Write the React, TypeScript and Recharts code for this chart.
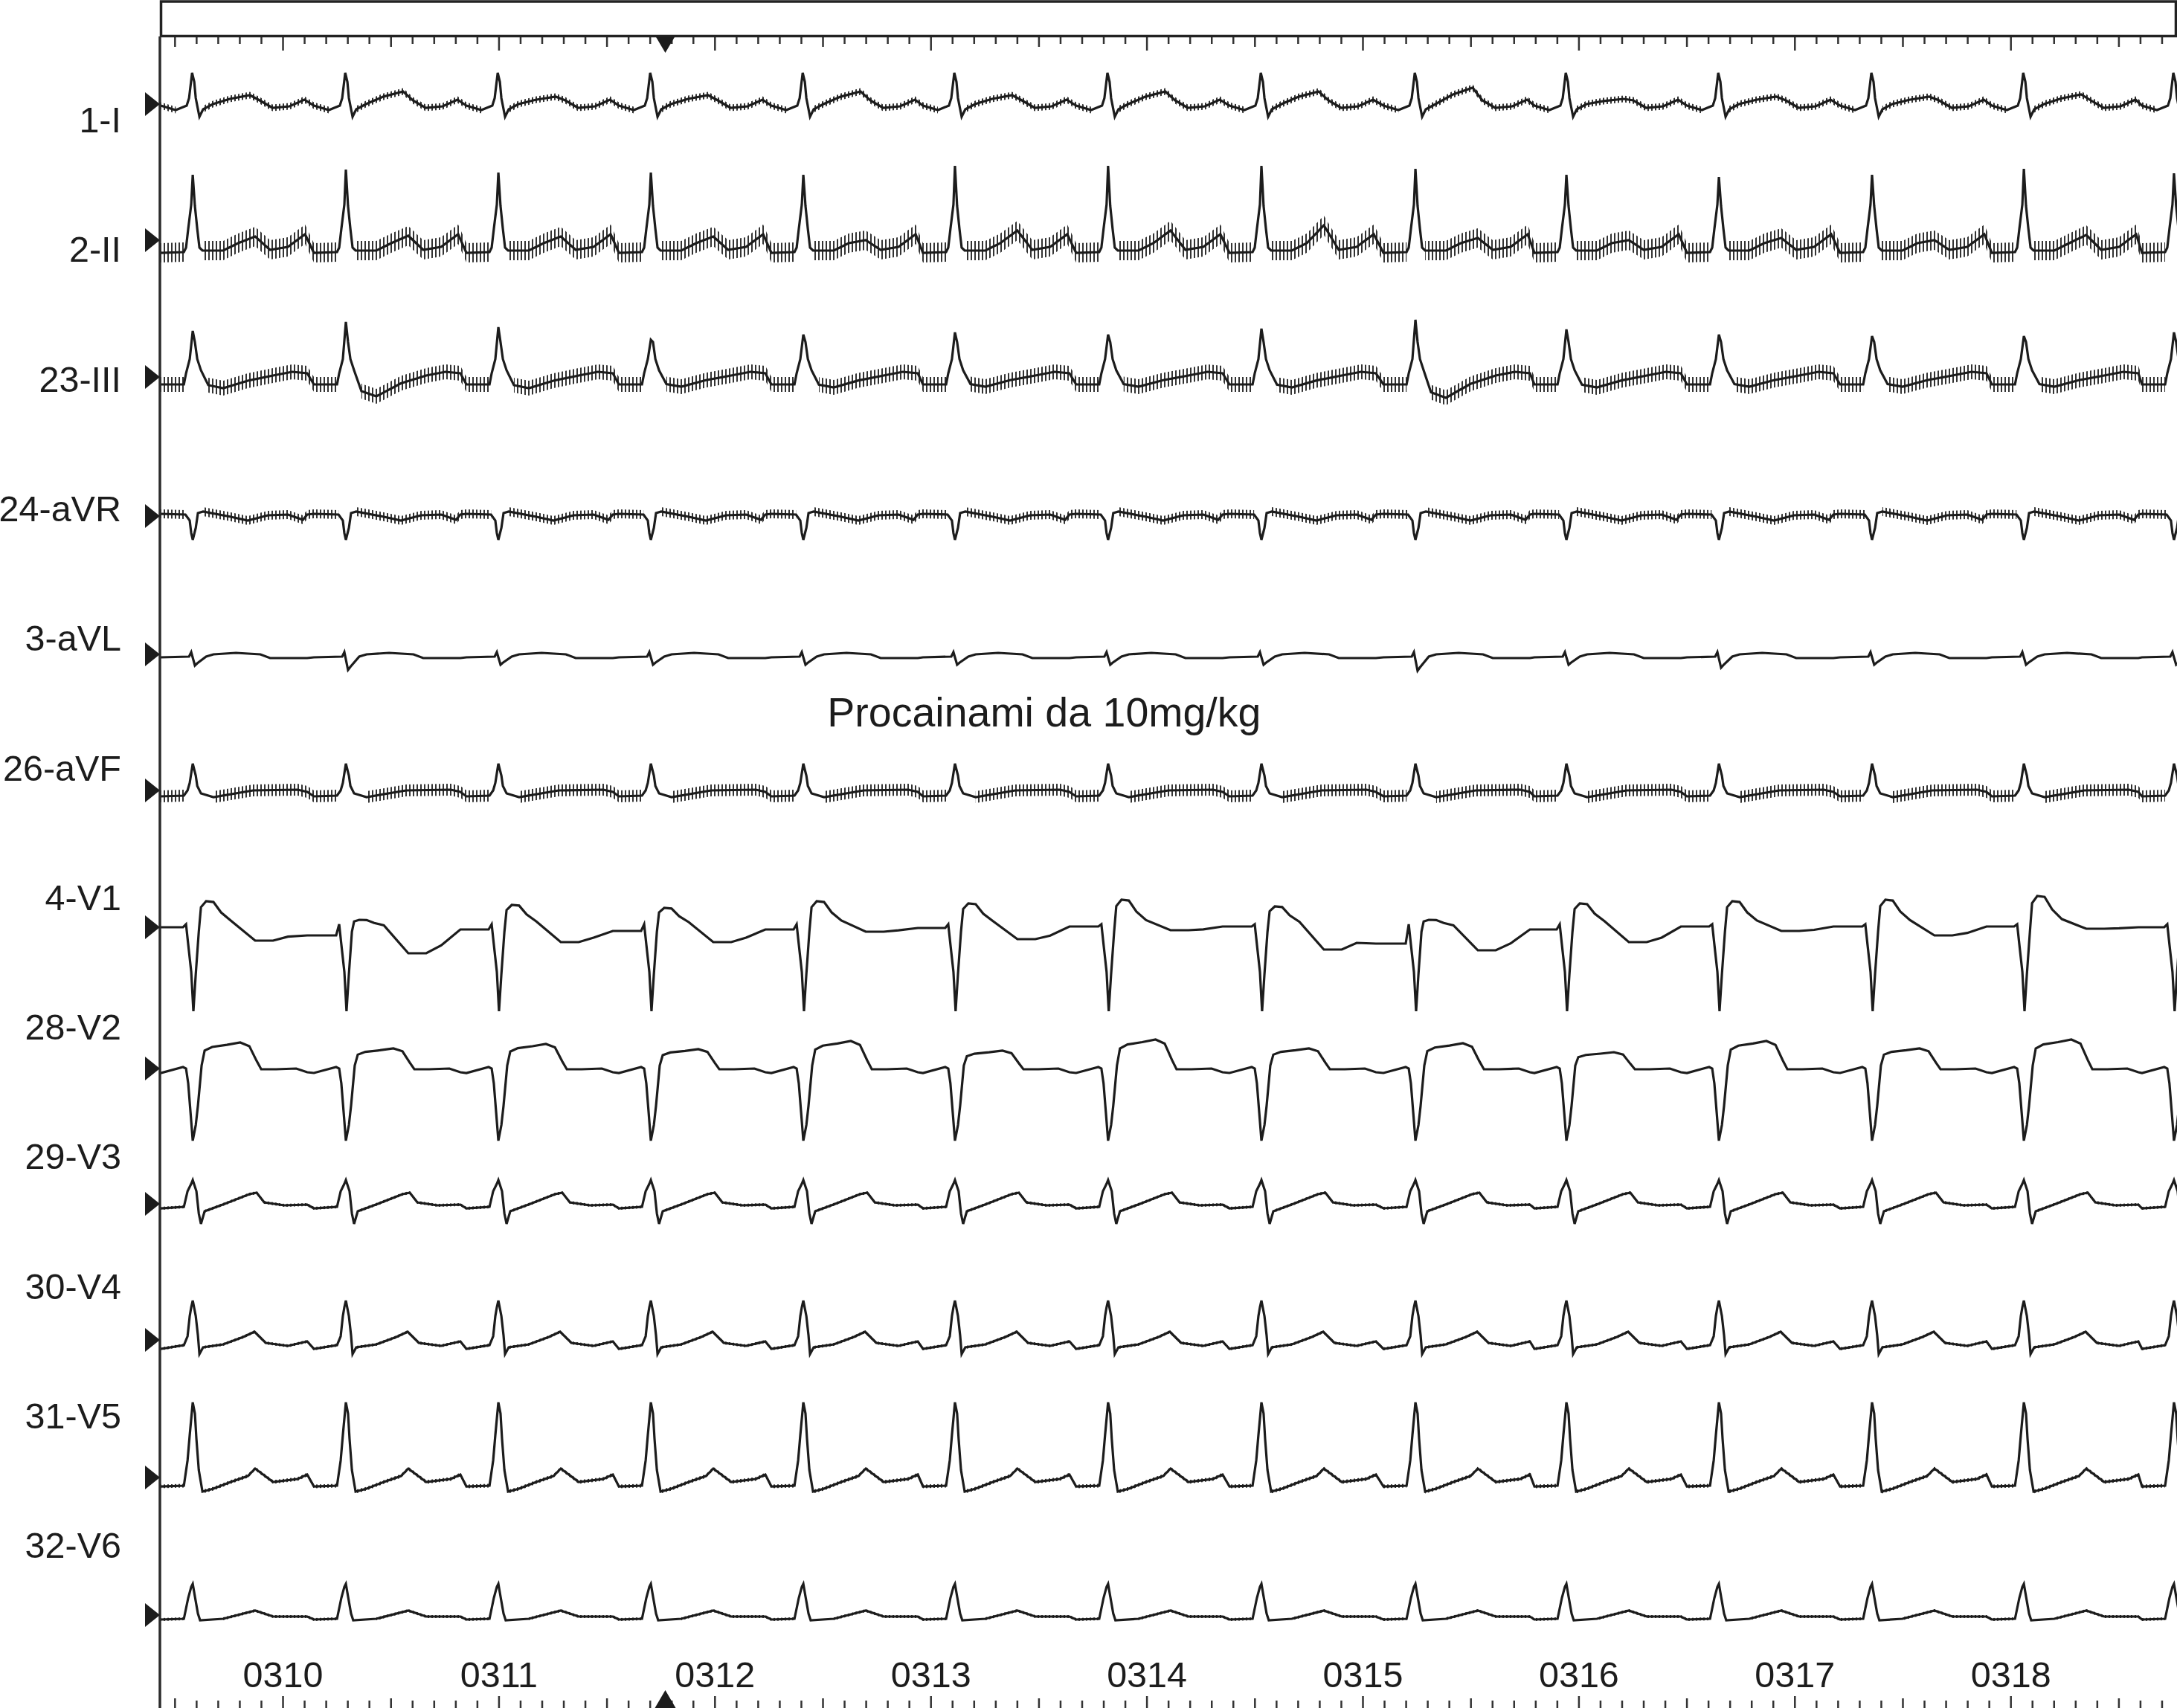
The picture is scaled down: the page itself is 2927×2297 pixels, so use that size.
import React from 'react';
import { ComposedChart, Line, Area, XAxis, YAxis } from 'recharts';

// ================= DATA =================
const LEAD_NAMES = ['1-I', '2-II', '23-III', '24-aVR', '3-aVL', '26-aVF', '4-V1', '28-V2', '29-V3', '30-V4', '31-V5', '32-V6'];
const TIME_LABELS = ['0310', '0311', '0312', '0313', '0314', '0315', '0316', '0317', '0318'];
const TIME_LABEL_SECONDS = [10, 11, 12, 13, 14, 15, 16, 17, 18];
// R-wave times (s); first one is just before the visible strip, last one at the right edge
const BEAT_TIMES = [8.876, 9.582, 10.291, 10.997, 11.703, 12.409, 13.111, 13.82, 14.53, 15.243, 15.942, 16.648, 17.357, 18.06, 18.755];
const MARKER_TIME = 11.77;
const ANNOTATION = 'Procainami da 10mg/kg';
const ANNOTATION_TIME = 13.524;

// Beat templates: [ms from R, mV, tag?]; a tagged point is (value x per-beat amplitude)
type P = [number, number, string?];
const TPL_I: P[] = [
  [-148, -0.02], [-79, -0.08], [-28, -0.02], [-17, 0.08], [-3, 0.42], [7, 0.3], [14, 0.08], [31, -0.17],
  [48, -0.07], [93, 0.0], [172, 0.58, 'T'], [265, 1, 'T'], [310, 0.05], [369, -0.05], [448, -0.03], [517, 0.06],
];
const TPL_II: P[] = [
  [-148, -0.17], [-41, -0.16], [-31, -0.1], [-21, 0.15], [-7, 0.48], [0, 1, 'R'], [10, 0.46], [21, 0.15],
  [31, -0.1], [45, -0.14], [141, -0.14], [210, -0.04], [289, 1, 'T'], [358, -0.13], [441, -0.09], [520, 0.08],
];
const TPL_III: P[] = [
  [-148, -0.1], [-41, -0.1], [-31, 0.05], [-14, 0.24], [0, 1, 'R'], [10, 0.47], [21, 0.24], [38, 0.09],
  [72, 0.73, 'S'], [141, 1, 'S'], [255, 0.33, 'S'], [372, 0.02], [461, 0.07], [530, 0.05],
];
const TPL_AVR: P[] = [
  [-148, 0.03], [-34, 0.02], [-14, -0.06], [-7, -0.23], [0, -0.32], [14, -0.16], [24, 0.04], [48, 0.06],
  [176, -0.01], [255, -0.06], [348, 0.01], [441, 0.02], [510, -0.05], [530, 0.02],
];
const TPL_AVL: P[] = [
  [-148, -0.04], [-17, -0.03], [-7, 0.03], [10, 1, 'Q'], [21, 0.8, 'Q'], [62, -0.03], [96, 0.0],
  [200, 0.02], [313, 0.0], [358, -0.05], [530, -0.05],
];
const TPL_AVF: P[] = [
  [-148, -0.08], [-41, -0.07], [-24, 0.0], [-14, 0.1], [0, 0.36], [14, 0.2], [21, 0.06], [38, -0.04],
  [96, -0.09], [279, 0.0], [486, 0.01], [530, -0.02],
];
const TPL_V1: P[] = [
  [-148, 1, 'PRE'], [-45, 1, 'PRE'], [-31, 0.04], [-21, -0.23], [-7, -0.6], [3, -1.13], [14, -0.63], [28, -0.06],
  [38, 0.77, 'H'], [62, 1, 'H'], [96, 0.97, 'H'], [131, 0.57, 'H'], [176, 0.26, 'H'],
  [289, 1, 'D'], [372, 1, 'D'], [441, 0.7, 'D'], [530, 1, 'NEXT'],
];
const TPL_V2: P[] = [
  [-148, -0.06], [-45, 0.02], [-31, 0.0], [-21, -0.2], [-10, -0.6], [0, -0.97], [14, -0.76], [24, -0.5],
  [41, 0.04], [55, 0.69, 'H'], [90, 0.83, 'H'], [158, 0.91, 'H'], [220, 1, 'H'], [262, 0.86, 'H'], [296, 0.29, 'H'],
  [317, -0.01], [386, -0.01], [479, 0.0], [530, -0.05],
];
const TPL_V3: P[] = [
  [-148, -0.06], [-41, -0.04], [-24, 0.17], [-7, 0.27], [0, 0.32], [17, 0.17], [28, -0.13], [38, -0.27],
  [55, -0.1], [148, 0.0], [262, 0.13], [296, 0.15], [331, 0.02], [424, -0.02], [530, -0.01],
];
const TPL_V4: P[] = [
  [-148, -0.12], [-41, -0.07], [-24, 0.05], [-14, 0.32], [-7, 0.44], [0, 0.53], [14, 0.32], [24, 0.06],
  [31, -0.19], [48, -0.1], [141, -0.06], [234, 0.04], [286, 0.11], [338, -0.04], [441, -0.08], [530, -0.02],
];
const TPL_V5: P[] = [
  [-148, -0.12], [-41, -0.11], [-24, 0.23], [-14, 0.57], [0, 1.01], [10, 0.86], [17, 0.52], [28, 0.1],
  [45, -0.19], [96, -0.15], [176, -0.06], [255, 0.02], [289, 0.12], [372, -0.06], [486, -0.02], [530, 0.04],
];
const TPL_V6: P[] = [
  [-148, -0.06], [-41, -0.05], [-21, 0.23], [-7, 0.38], [0, 0.42], [10, 0.25], [24, 0.02], [34, -0.07],
  [141, -0.05], [289, 0.06], [372, -0.02], [530, -0.02],
];

// per-beat amplitudes (mV), one per entry of BEAT_TIMES
const I_T = [0.12, 0.12, 0.17, 0.1, 0.12, 0.17, 0.12, 0.17, 0.17, 0.22, 0.07, 0.1, 0.1, 0.13, 0.12];
const II_R = [0.88, 0.88, 0.95, 0.91, 0.91, 0.88, 1.0, 1.0, 1.0, 0.96, 0.88, 0.85, 0.88, 0.96, 0.9];
const II_T = [0.05, 0.05, 0.06, 0.05, 0.05, 0.0, 0.13, 0.13, 0.2, 0.03, 0.0, 0.03, 0.0, 0.07, 0.05];
const III_R = [0.62, 0.62, 0.74, 0.67, 0.5, 0.57, 0.6, 0.57, 0.65, 0.77, 0.64, 0.57, 0.55, 0.55, 0.6];
const III_S = [-0.15, -0.15, -0.26, -0.15, -0.13, -0.14, -0.13, -0.13, -0.14, -0.28, -0.14, -0.13, -0.13, -0.13, -0.13];
const AVL_Q = [-0.15, -0.15, -0.21, -0.14, -0.14, -0.14, -0.14, -0.14, -0.14, -0.22, -0.14, -0.18, -0.14, -0.14, -0.14];
const V1_HUMP = [0.33, 0.35, 0.1, 0.3, 0.26, 0.35, 0.32, 0.37, 0.28, 0.1, 0.32, 0.35, 0.37, 0.42, 0.35];
const V1_DIP = [-0.1, -0.18, -0.35, -0.2, -0.2, -0.06, -0.16, -0.04, -0.3, -0.31, -0.2, -0.05, -0.11, -0.02, -0.05];
const V1_PRE = [0.0, 0.0, -0.11, -0.03, -0.05, -0.03, -0.01, 0.01, 0.01, -0.22, -0.03, 0.01, 0.01, 0.01, 0.0];
const V2_HUMP = [0.33, 0.35, 0.27, 0.33, 0.26, 0.37, 0.24, 0.39, 0.27, 0.34, 0.22, 0.37, 0.27, 0.39, 0.33];
// half-height of the fine high-frequency oscillation riding on each lead (mV)
const FLUTTER_MV = [0.045, 0.13, 0.1, 0.06, 0, 0.08, 0, 0, 0.02, 0.02, 0.025, 0.02];

type Tags = Record<string, { arr: number[]; shift?: number }>;
const LEADS: { tpl: P[]; tags: Tags }[] = [
  { tpl: TPL_I, tags: { T: { arr: I_T } } },
  { tpl: TPL_II, tags: { R: { arr: II_R }, T: { arr: II_T } } },
  { tpl: TPL_III, tags: { R: { arr: III_R }, S: { arr: III_S } } },
  { tpl: TPL_AVR, tags: {} },
  { tpl: TPL_AVL, tags: { Q: { arr: AVL_Q } } },
  { tpl: TPL_AVF, tags: {} },
  { tpl: TPL_V1, tags: { H: { arr: V1_HUMP }, D: { arr: V1_DIP }, PRE: { arr: V1_PRE }, NEXT: { arr: V1_PRE, shift: 1 } } },
  { tpl: TPL_V2, tags: { H: { arr: V2_HUMP } } },
  { tpl: TPL_V3, tags: {} },
  { tpl: TPL_V4, tags: {} },
  { tpl: TPL_V5, tags: {} },
  { tpl: TPL_V6, tags: {} },
];

// ================= LAYOUT / STYLE =================
const W = 2927;
const H = 2297;
const PLOT_LEFT = 215;
const PLOT_TOP = 49;
const PLOT_BOTTOM = 2296;
const PX_PER_MV = 100;
const T_MIN = 9.43;
const T_MAX = 18.769;
const BASELINE_Y = [140, 323, 507, 694, 880, 1063, 1247, 1437, 1619, 1802, 1987, 2172];
const LABEL_Y0 = 161;
const LABEL_STEP = 174.3;
const FONT = '"Liberation Sans", Arial, Helvetica, sans-serif';
const INK = '#1c1c1c';
const TICKS = Array.from({ length: 93 }, (_, k) => (95 + k) / 10);
const PX_PER_S = (W - PLOT_LEFT) / (T_MAX - T_MIN);
const xOf = (t: number) => PLOT_LEFT + (t - T_MIN) * PX_PER_S;

type Row = { t: number; v: number; ms: number };
type Band = { t: number; r: [number, number] | null };

function buildTrace(tpl: P[], tags: Tags): Row[] {
  const out: Row[] = [];
  BEAT_TIMES.forEach((bt, b) => {
    for (const [ms, v, tag] of tpl) {
      let val = v;
      if (tag) {
        const s = tags[tag];
        const idx = Math.min(b + (s.shift ?? 0), s.arr.length - 1);
        val = v * s.arr[idx];
      }
      out.push({ t: Math.round((bt + ms / 1000) * 10000) / 10000, v: val, ms });
    }
  });
  return out;
}

// envelope of the fine oscillation, left out across the QRS complexes
function buildBand(trace: Row[], a: number): Band[] {
  const out: Band[] = [];
  for (const p of trace) {
    if (p.ms > -32 && p.ms < 40) {
      if (out.length && out[out.length - 1].r !== null) out.push({ t: p.t, r: null });
      continue;
    }
    out.push({ t: p.t, r: [p.v - a, p.v + a] });
  }
  return out;
}

const TRACES = LEADS.map((L) => buildTrace(L.tpl, L.tags));
const BANDS = TRACES.map((tr, i) => (FLUTTER_MV[i] > 0 ? buildBand(tr, FLUTTER_MV[i]) : null));

function yDomain(yb: number): [number, number] {
  return [-(PLOT_BOTTOM - yb) / PX_PER_MV, (yb - PLOT_TOP) / PX_PER_MV];
}

function tickLen(v: number, long: number, mid: number, short: number) {
  const k = Math.round(v * 10);
  if (k % 10 === 0) return long;
  if (k % 5 === 0) return mid;
  return short;
}

function renderTopTick(p: any) {
  const x = p.x;
  const len = tickLen(p.payload.value, 19, 14, 10);
  return <line x1={x} x2={x} y1={PLOT_TOP} y2={PLOT_TOP + len} stroke="#333" strokeWidth={2.5} />;
}

function renderBottomTick(p: any) {
  const x = p.x;
  const v = p.payload.value;
  const len = tickLen(v, 16, 13, 10);
  const k = Math.round(v * 10);
  const li = k % 10 === 0 ? TIME_LABEL_SECONDS.indexOf(k / 10) : -1;
  return (
    <g>
      <line x1={x} x2={x} y1={H - len} y2={H} stroke="#333" strokeWidth={2.5} />
      {li >= 0 && (
        <text x={x} y={2269} textAnchor="middle" fontSize={48.5} fontFamily={FONT} fill={INK}>
          {TIME_LABELS[li]}
        </text>
      )}
    </g>
  );
}

export default function App() {
  const mx = xOf(MARKER_TIME);
  return (
    <div style={{ position: 'absolute', left: 0, top: 0, width: W, height: H, background: '#fff', overflow: 'hidden' }}>
      <svg width={0} height={0} style={{ position: 'absolute' }}>
        <defs>
          <pattern id="flutterStripes" x={0} y={0} width={5} height={20} patternUnits="userSpaceOnUse">
            <rect x={0} y={0} width={2} height={20} fill="#333" />
          </pattern>
        </defs>
      </svg>
      <ComposedChart width={W} height={H} margin={{ top: 0, right: 0, bottom: 0, left: PLOT_LEFT }}>
        <XAxis
          xAxisId="top"
          orientation="top"
          type="number"
          dataKey="t"
          domain={[T_MIN, T_MAX]}
          allowDataOverflow
          ticks={TICKS}
          interval={0}
          height={PLOT_TOP}
          axisLine={false}
          tickLine={false}
          tick={renderTopTick}
        />
        <XAxis
          xAxisId="bottom"
          orientation="bottom"
          type="number"
          dataKey="t"
          domain={[T_MIN, T_MAX]}
          allowDataOverflow
          ticks={TICKS}
          interval={0}
          height={1}
          axisLine={false}
          tickLine={false}
          tick={renderBottomTick}
        />
        {LEAD_NAMES.map((name, i) => (
          <YAxis key={name} yAxisId={name} type="number" domain={yDomain(BASELINE_Y[i])} allowDataOverflow hide />
        ))}
        {LEAD_NAMES.map((name, i) =>
          BANDS[i] ? (
            <Area
              key={'b' + name}
              data={BANDS[i] as Band[]}
              dataKey="r"
              xAxisId="bottom"
              yAxisId={name}
              type="linear"
              stroke="none"
              fill="url(#flutterStripes)"
              fillOpacity={1}
              dot={false}
              activeDot={false}
              isAnimationActive={false}
            />
          ) : null
        )}
        {LEAD_NAMES.map((name, i) => (
          <Line
            key={'l' + name}
            data={TRACES[i]}
            dataKey="v"
            xAxisId="bottom"
            yAxisId={name}
            type="linear"
            dot={false}
            activeDot={false}
            stroke={INK}
            strokeWidth={3.2}
            isAnimationActive={false}
          />
        ))}
      </ComposedChart>
      <svg width={W} height={H} style={{ position: 'absolute', left: 0, top: 0, pointerEvents: 'none' }}>
        <rect x={PLOT_LEFT + 1.5} y={2} width={W - PLOT_LEFT - 3} height={PLOT_TOP - 2.5} fill="none" stroke="#222" strokeWidth={3.5} />
        <line x1={PLOT_LEFT} x2={PLOT_LEFT} y1={PLOT_TOP} y2={H} stroke="#2b2b2b" strokeWidth={3.5} />
        {LEAD_NAMES.map((name, i) => (
          <g key={'lab' + name}>
            <polygon points={`195,${BASELINE_Y[i] - 16} 215,${BASELINE_Y[i]} 195,${BASELINE_Y[i] + 16}`} fill={INK} />
            <text x={163} y={LABEL_Y0 + LABEL_STEP * i + 17} textAnchor="end" fontSize={48.5} fontFamily={FONT} fill={INK}>
              {name}
            </text>
          </g>
        ))}
        <polygon points={`${mx - 13},${PLOT_TOP} ${mx + 13},${PLOT_TOP} ${mx},${PLOT_TOP + 22}`} fill={INK} />
        <polygon points={`${mx - 14},${H} ${mx + 14},${H} ${mx},${H - 24}`} fill={INK} />
        <text x={xOf(ANNOTATION_TIME)} y={977} textAnchor="middle" fontSize={55.5} fontFamily={FONT} fill={INK}>
          {ANNOTATION}
        </text>
      </svg>
    </div>
  );
}
